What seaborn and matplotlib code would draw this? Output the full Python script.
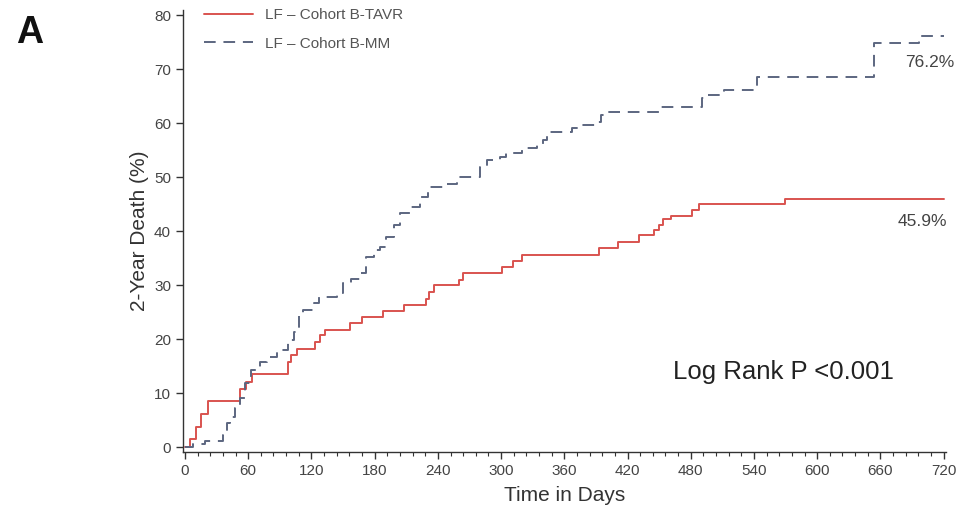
import pandas as pd
import matplotlib
matplotlib.use("Agg")
import matplotlib.pyplot as plt
from matplotlib.ticker import MultipleLocator
import seaborn as sns

# Kaplan-Meier style cumulative death curves
tavr_days = [0, 5, 10, 15, 22, 52, 58, 64, 98, 101, 106, 123, 128, 133, 157, 168,
             188, 208, 229, 232, 236, 260, 264, 301, 311, 320, 393, 411, 431, 445,
             450, 454, 461, 481, 488, 569, 720]
tavr_pct = [0, 1.5, 3.7, 6.1, 8.6, 10.8, 12.0, 13.5, 15.7, 17.0, 18.2, 19.5, 20.7, 21.7,
            22.9, 24.1, 25.2, 26.4, 27.5, 28.8, 30.0, 30.9, 32.2, 33.4, 34.4, 35.5,
            36.9, 38.0, 39.3, 40.2, 41.2, 42.2, 42.8, 43.9, 45.0, 45.9, 45.9]

mm_days = [0, 8, 19, 36, 40, 43, 47, 52, 57, 63, 71, 78, 87, 98, 103, 108, 112, 122,
           127, 144, 150, 158, 166, 172, 179, 185, 191, 198, 204, 214, 223, 231, 245,
           258, 280, 287, 299, 305, 320, 334, 340, 344, 367, 375, 391, 395, 400, 451,
           491, 495, 512, 543, 654, 697, 720]
mm_pct = [0, 0.6, 1.2, 2.2, 4.4, 5.6, 7.2, 9.1, 11.8, 14.3, 15.8, 16.7, 18.0, 19.8,
          21.4, 24.4, 25.4, 26.6, 27.8, 28.6, 30.3, 31.2, 32.2, 35.2, 36.5, 37.1, 38.9,
          41.1, 43.3, 44.5, 46.4, 48.2, 48.8, 50.1, 51.9, 53.1, 53.8, 54.4, 55.3, 55.9,
          56.9, 58.4, 59.0, 59.6, 60.2, 61.5, 62.1, 63.0, 64.6, 65.2, 66.1, 68.6, 74.8,
          76.2, 76.2]

df_tavr = pd.DataFrame({"days": tavr_days, "pct": tavr_pct})
df_mm = pd.DataFrame({"days": mm_days, "pct": mm_pct})

sns.set_style("white")
plt.rcParams["font.family"] = ["Liberation Sans", "DejaVu Sans"]

fig = plt.figure(figsize=(9.78, 5.27), dpi=100)
ax = fig.add_axes([0.187, 0.142, 0.780, 0.839])

sns.lineplot(data=df_tavr, x="days", y="pct", ax=ax, drawstyle="steps-post",
             color="#d9534f", linewidth=1.4, label="LF \u2013 Cohort B-TAVR")
sns.lineplot(data=df_mm, x="days", y="pct", ax=ax, drawstyle="steps-post",
             color="#5c6680", linewidth=1.4, dashes=False, linestyle=(0, (6, 4)),
             label="LF \u2013 Cohort B-MM")

ax.set_xlim(-2, 722)
ax.set_ylim(-0.93, 80.93)
ax.xaxis.set_major_locator(MultipleLocator(60))
ax.xaxis.set_minor_locator(MultipleLocator(12))
ax.yaxis.set_major_locator(MultipleLocator(10))

for side in ["top", "right"]:
    ax.spines[side].set_visible(False)
for side in ["left", "bottom"]:
    ax.spines[side].set_color("#333333")
    ax.spines[side].set_linewidth(1.0)

ax.tick_params(axis="both", which="major", direction="out", length=5, width=1,
               color="#333333", labelsize=11, labelcolor="#444444", bottom=True, left=True)
ax.tick_params(axis="x", which="minor", direction="out", length=3, width=0.8,
               color="#333333", bottom=True)

ax.set_xlabel("Time in Days", fontsize=15, color="#333333", labelpad=6)
ax.set_ylabel("2-Year Death (%)", fontsize=15, color="#333333", labelpad=4)

ax.text(463, 13.9, "Log Rank P <0.001", fontsize=18.5, color="#222222", va="center")
ax.text(730, 71.3, "76.2%", fontsize=12.5, color="#444444", ha="right", va="center")
ax.text(723, 41.7, "45.9%", fontsize=12.5, color="#444444", ha="right", va="center")

fig.text(0.016, 0.918, "A", fontsize=27, fontweight="heavy", color="#111111")

leg = ax.legend(loc="upper left", bbox_to_anchor=(0.01, 1.035), frameon=False,
                fontsize=11, handlelength=3.2, labelspacing=0.95)
for t in leg.get_texts():
    t.set_color("#555555")

fig.savefig("out.png", dpi=100)
